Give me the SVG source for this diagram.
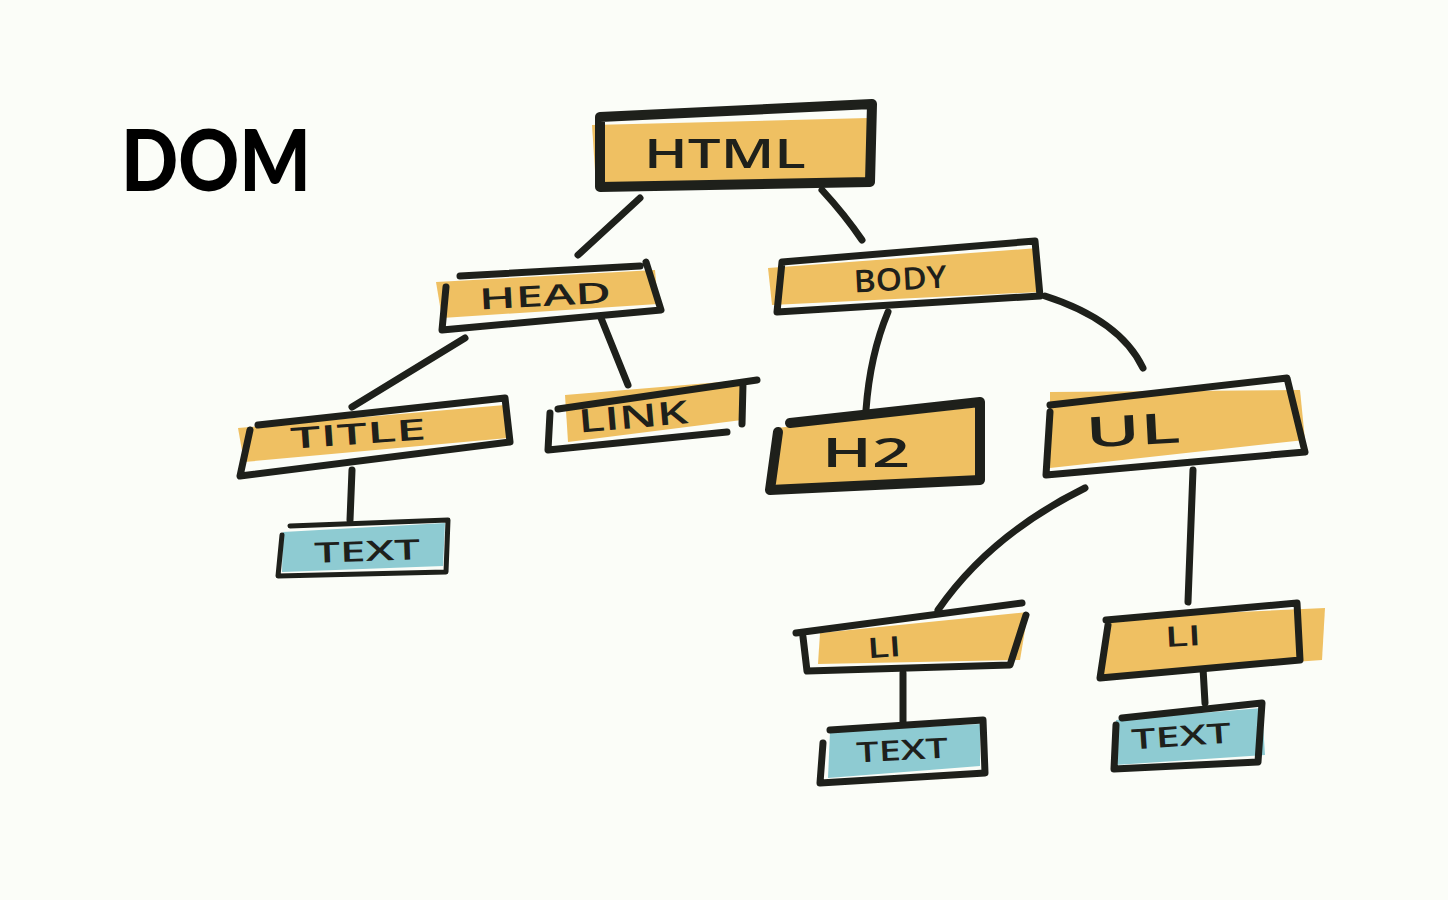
<svg xmlns="http://www.w3.org/2000/svg" width="1448" height="900" viewBox="0 0 1448 900">
<style>
.bg{fill:#fbfdf8}
.o{fill:#efc062}
.t{fill:#8ecbd2}
.ln{fill:none;stroke:#1e201b;stroke-width:7;stroke-linecap:round;stroke-linejoin:round}
.thin{stroke-width:5}
.thick{stroke-width:10}
.lb{font-family:"Open Sans","DejaVu Sans",sans-serif;font-weight:600;fill:#1e201b;text-anchor:middle}
.title{font-family:Lato,"Open Sans",sans-serif;font-weight:900;fill:#000}
</style>
<rect class="bg" x="0" y="0" width="1448" height="900"/>
<text class="title" x="121" y="191" font-size="86" textLength="190" lengthAdjust="spacingAndGlyphs">DOM</text>

<g id="connectors">
<path class="ln" d="M640 198 L578 255" stroke-width="8"/>
<path class="ln" d="M822 190 Q845 215 862 240" stroke-width="8"/>
<path class="ln" d="M465 338 L352 407" stroke-width="8"/>
<path class="ln" d="M601 318 L628 385" stroke-width="8"/>
<path class="ln" d="M888 312 Q870 355 866 410" stroke-width="8"/>
<path class="ln" d="M1045 296 Q1120 320 1143 368" stroke-width="10"/>
<path class="ln" d="M352 470 L350 520" stroke-width="5"/>
<path class="ln" d="M1085 488 Q990 535 938 610" stroke-width="8"/>
<path class="ln" d="M1193 470 L1188 602" stroke-width="9"/>
<path class="ln" d="M903 673 L903 725" stroke-width="6"/>
<path class="ln" d="M1203 668 L1205 703" stroke-width="6"/>
</g>

<g id="html">
<polygon class="o" points="592,125 868,118 866,180 596,186"/>
<path class="ln thick" d="M600 117 L872 104 L870 182 L600 187 Z"/>
<text class="lb" x="725" y="168" font-size="40" textLength="162" lengthAdjust="spacingAndGlyphs">HTML</text>
</g>

<g id="head">
<polygon class="o" points="436,282 655,270 658,304 442,318"/>
<path class="ln" d="M460 276 L640 266 M646 262 L661 310 L442 330 L446 287"/>
<text class="lb" x="545" y="306" font-size="29" textLength="132" lengthAdjust="spacingAndGlyphs" transform="rotate(-3 545 296)">HEAD</text>
</g>

<g id="body">
<polygon class="o" points="768,268 1038,248 1040,292 772,305"/>
<path class="ln" d="M782 262 L1035 241 L1040 296 L777 312 Z"/>
<text class="lb" x="900" y="290" font-size="31" textLength="93" lengthAdjust="spacingAndGlyphs" transform="rotate(-3 900 278)">BODY</text>
</g>

<g id="title">
<polygon class="o" points="238,428 505,405 508,438 244,462"/>
<path class="ln" d="M258 425 L505 398 L510 442 L240 476 L250 430"/>
<text class="lb" x="358" y="444" font-size="29" textLength="136" lengthAdjust="spacingAndGlyphs" transform="rotate(-4 358 432)">TITLE</text>
</g>

<g id="link">
<polygon class="o" points="565,395 745,380 742,420 568,442"/>
<path class="ln" d="M558 409 L757 380 M743 384 L742 424 M727 432 L548 450 L550 413"/>
<text class="lb" x="633" y="428" font-size="32" textLength="110" lengthAdjust="spacingAndGlyphs" transform="rotate(-5 633 415)">LINK</text>
</g>

<g id="h2">
<polygon class="o" points="776,428 978,407 975,480 776,488"/>
<path class="ln thick" d="M790 423 L980 402 L980 480 L770 490 L778 432"/>
<text class="lb" x="866" y="467" font-size="40" font-weight="700" textLength="88" lengthAdjust="spacingAndGlyphs">H2</text>
</g>

<g id="ul">
<polygon class="o" points="1050,392 1300,390 1305,440 1050,468"/>
<path class="ln" d="M1050 405 L1287 378 L1305 452 L1046 475 L1050 412" stroke-width="8"/>
<text class="lb" x="1133" y="445" font-size="42" textLength="95" lengthAdjust="spacingAndGlyphs" transform="rotate(-3 1133 430)">UL</text>
</g>

<g id="text1">
<polygon class="t" points="283,532 445,523 443,566 282,572"/>
<path class="ln thin" d="M290 526 L448 520 L446 572 L278 576 L282 535"/>
<text class="lb" x="367" y="561" font-size="28" textLength="106" lengthAdjust="spacingAndGlyphs" transform="rotate(-2 367 550)">TEXT</text>
</g>

<g id="li1">
<polygon class="o" points="820,633 1028,612 1020,660 818,664"/>
<path class="ln" d="M796 633 L1022 603 M1026 615 L1010 665 L807 671 L803 637" stroke-width="6"/>
<text class="lb" x="884" y="657" font-size="28" textLength="34" lengthAdjust="spacingAndGlyphs" transform="rotate(-4 884 645)">LI</text>
</g>

<g id="li2">
<polygon class="o" points="1108,618 1325,608 1322,660 1100,676"/>
<path class="ln" d="M1106 620 L1297 603 L1300 660 L1100 678 L1108 625" stroke-width="6"/>
<text class="lb" x="1183" y="646" font-size="28" textLength="36" lengthAdjust="spacingAndGlyphs" transform="rotate(-3 1183 635)">LI</text>
</g>

<g id="text2">
<polygon class="t" points="830,732 980,724 980,766 828,778"/>
<path class="ln" d="M830 730 L983 720 L985 773 L820 783 L823 743" stroke-width="6"/>
<text class="lb" x="902" y="760" font-size="28" textLength="92" lengthAdjust="spacingAndGlyphs" transform="rotate(-3 902 748)">TEXT</text>
</g>

<g id="text3">
<polygon class="t" points="1116,720 1262,708 1265,755 1115,765"/>
<path class="ln" d="M1122 718 L1262 703 L1258 762 L1114 769 L1116 725" stroke-width="6"/>
<text class="lb" x="1181" y="746" font-size="28" textLength="100" lengthAdjust="spacingAndGlyphs" transform="rotate(-4 1181 735)">TEXT</text>
</g>
</svg>
